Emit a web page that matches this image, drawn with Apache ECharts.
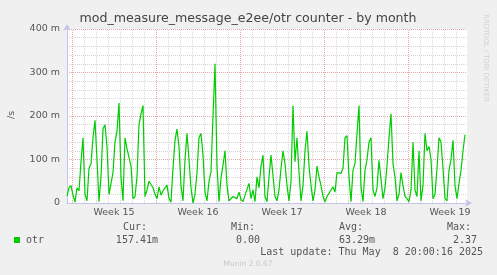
<!DOCTYPE html>
<html><head><meta charset="utf-8">
<script src="https://cdn.jsdelivr.net/npm/echarts@6/dist/echarts.min.js"></script>
<style>html,body{margin:0;padding:0;background:#f0f0f0}#c{width:497px;height:275px}</style>
</head><body><div id="c"></div>
<script>
const chartTitle = 'mod_measure_message_e2ee/otr counter - by month';
const hoursPerSample = 4;
const spanHours = 800;
const firstWeekStartHour = 10;
const weekLabels = ['Week 15', 'Week 16', 'Week 17', 'Week 18', 'Week 19'];
const yMax = 400;
const yLabelStep = 100;
const unitLabel = '/s';
const seriesName = 'otr';
const statHeaders = ['Cur:', 'Min:', 'Avg:', 'Max:'];
const statValues = ['157.41m', '0.00', '63.29m', '2.37'];
const lastUpdate = 'Last update: Thu May  8 20:00:16 2025';
const footer = 'Munin 2.0.67';
const sideNote = 'RRDTOOL / TOBI OETIKER';
// values in milli-per-second, one every 4 hours
const otrValues = [
 16,35,40,18,2,35,28,95,150,20,5,80,90,150,190,100,3,60,170,180,
 130,20,22,70,140,165,230,60,5,150,125,105,85,10,15,60,180,205,224,15,
 30,50,50,35,20,10,37,18,28,35,41,10,2,80,144,170,130,40,5,100,
 160,100,35,0,20,70,150,160,110,25,5,50,72,200,320,87,3,57,87,120,
 40,5,8,15,12,10,25,8,3,18,22,45,10,30,3,60,35,85,110,15,
 3,60,110,106,15,5,30,80,120,90,40,5,50,224,95,150,70,5,40,120,
 165,85,40,5,30,85,60,40,15,3,15,12,30,37,25,70,68,68,80,150,
 155,60,3,75,91,160,224,37,3,75,100,140,150,30,15,35,98,95,10,35,
 85,150,205,90,60,5,20,70,40,15,10,3,30,140,30,15,120,5,40,160,
 120,130,100,10,20,80,150,140,80,10,5,75,100,144,40,10,45,75,120,157
];

const seriesData = otrValues.map((v, i) => [i * hoursPerSample, v]);
const majorColor = '#e7aaaa';
const minorColor = '#d6d6d6';
const gridLines = [];
for (let h = firstWeekStartHour, k = 0; h < spanHours; h += 24, k++) {
  // +1 hour = half a pixel so the 1px dotted line lands crisply on a pixel column
  gridLines.push({ xAxis: h + 1, lineStyle: { color: k % 7 === 0 ? majorColor : minorColor, type: [1, 1], width: 1 } });
}
const weekCenters = weekLabels.map((_, i) => firstWeekStartHour + 84 + 168 * i);

const textColor = '#555';
const mono = '10px "DejaVu Sans Mono"';
const graphics = [
  { type: 'text', x: 248, y: 19, style: { text: chartTitle, fill: '#444', font: '12.6px "DejaVu Sans"', align: 'center', verticalAlign: 'middle' } },
  { type: 'text', x: 12, y: 115, rotation: Math.PI / 2, style: { text: unitLabel, fill: textColor, font: '9.5px "DejaVu Sans"', align: 'center', verticalAlign: 'middle' } },
  { type: 'text', x: 486, y: 58, rotation: -Math.PI / 2, style: { text: sideNote, fill: '#d0d0d0', font: '6.8px "DejaVu Sans"', align: 'center', verticalAlign: 'middle' } },
  { type: 'rect', shape: { x: 14, y: 237, width: 6, height: 6 }, style: { fill: '#00cc00' } },
  { type: 'text', x: 26, y: 240, style: { text: seriesName, fill: textColor, font: mono, verticalAlign: 'middle' } },
  { type: 'text', x: 483, y: 252, style: { text: lastUpdate, fill: textColor, font: mono, align: 'right', verticalAlign: 'middle' } },
  { type: 'text', x: 248, y: 264, style: { text: footer, fill: '#c8c8c8', font: '7.5px "DejaVu Sans"', align: 'center', verticalAlign: 'middle' } }
];
const headerX = [123, 231, 339, 447];
const valueRight = [158, 260, 375, 477];
statHeaders.forEach((t, i) => graphics.push({ type: 'text', x: headerX[i], y: 227, style: { text: t, fill: textColor, font: mono, verticalAlign: 'middle' } }));
statValues.forEach((t, i) => graphics.push({ type: 'text', x: valueRight[i], y: 240, style: { text: t, fill: textColor, font: mono, align: 'right', verticalAlign: 'middle' } }));

const chart = echarts.init(document.getElementById('c'), null, { renderer: 'canvas' });
chart.setOption({
  backgroundColor: '#f0f0f0',
  animation: false,
  grid: { left: 67, top: 29, width: 400, height: 174, show: true, backgroundColor: '#ffffff', borderWidth: 0 },
  xAxis: {
    type: 'value', min: 0, max: spanHours,
    axisLine: { show: true, lineStyle: { color: '#c4c4ea', width: 1 }, symbol: ['none', 'arrow'], symbolSize: [6, 7], symbolOffset: [0, 5] },
    axisTick: { show: false },
    splitLine: { show: false },
    axisLabel: {
      customValues: weekCenters, margin: 5, color: textColor, fontSize: 9.5, fontFamily: 'DejaVu Sans',
      formatter: v => weekLabels[Math.round((v - firstWeekStartHour - 84) / 168)]
    }
  },
  yAxis: {
    type: 'value', min: 0, max: yMax, interval: yLabelStep,
    axisLine: { show: true, lineStyle: { color: '#c4c4ea', width: 1 }, symbol: ['none', 'arrow'], symbolSize: [6, 7], symbolOffset: [0, 5] },
    axisTick: { show: false },
    axisLabel: { margin: 7, color: textColor, fontSize: 9.5, fontFamily: 'DejaVu Sans', formatter: v => v === 0 ? '0' : v + ' m' },
    splitLine: { show: true, lineStyle: { color: majorColor, type: [1, 1], width: 1 } },
    minorTick: { show: false, splitNumber: 5 },
    minorSplitLine: { show: true, lineStyle: { color: minorColor, type: [1, 1], width: 1 } }
  },
  series: [
    { type: 'line', data: [], silent: true, z: 1,
      markLine: { silent: true, z: 1, animation: false, symbol: ['none', 'none'], label: { show: false }, emphasis: { disabled: true }, data: gridLines } },
    { name: seriesName, type: 'line', data: seriesData, showSymbol: false, z: 3, silent: true,
      lineStyle: { color: '#00cc00', width: 1.2 }, itemStyle: { color: '#00cc00' } }
  ],
  graphic: graphics
});
</script>
</body></html>
